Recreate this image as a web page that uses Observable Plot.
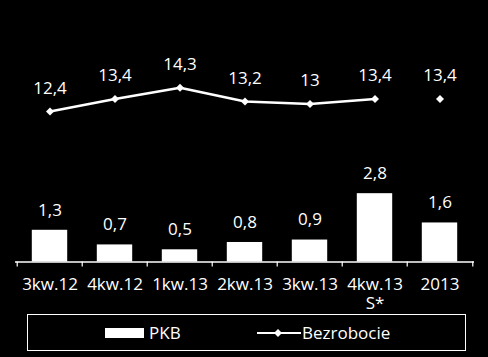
<!DOCTYPE html>
<html>
<head>
<meta charset="utf-8">
<script src="https://cdn.jsdelivr.net/npm/d3@7"></script>
<script src="https://cdn.jsdelivr.net/npm/@observablehq/plot@0.6"></script>
<style>
  html, body { margin: 0; padding: 0; background: #000; }
  #wrap { position: relative; width: 488px; height: 357px; background: #000; overflow: hidden; font-family: "Open Sans", sans-serif; }
  #wrap svg.plot { position: absolute; left: 0; top: 0; background: transparent; }
  #legend { position: absolute; left: 27px; top: 314px; width: 437px; height: 35px; border: 1px solid #fff; color: #fff; font-size: 17px; z-index: 2; }
  #legend .item { position: absolute; top: 0; height: 35px; display: flex; align-items: center; }
</style>
</head>
<body>
<div id="wrap">
  <div id="legend">
    <div class="item" style="left:77px"><svg width="40" height="10"><rect x="0" y="0" width="39" height="10" fill="#fff"/></svg><span style="margin-left:4px">PKB</span></div>
    <div class="item" style="left:229px"><svg width="44" height="10"><line x1="0" y1="5" x2="44" y2="5" stroke="#fff" stroke-width="2"/><path d="M21,1 L25,5 L21,9 L17,5 Z" fill="#fff"/></svg><span style="margin-left:1px">Bezrobocie</span></div>
  </div>
</div>
<script>
const categories = ["3kw.12", "4kw.12", "1kw.13", "2kw.13", "3kw.13", "4kw.13", "2013"];
const tickLabels = ["3kw.12", "4kw.12", "1kw.13", "2kw.13", "3kw.13", "4kw.13\nS*", "2013"];
const pkb = [1.3, 0.7, 0.5, 0.8, 0.9, 2.8, 1.6];
const bezrobocie = [12.4, 13.4, 14.3, 13.2, 13, 13.4, 13.4];
const lineGroup = ["kw", "kw", "kw", "kw", "kw", "kw", "rok"];

const fmt = v => String(v).replace(".", ",");
const W = 488, H = 357, ML = 15, MR = 14;
const step = (W - ML - MR) / categories.length;
const rows = categories.map((c, i) => ({cat: c, label: tickLabels[i], pkb: pkb[i], bez: bezrobocie[i], grp: lineGroup[i]}));
const font = "Open Sans";

const bars = Plot.plot({
  className: "plot",
  width: W, height: H,
  marginLeft: ML, marginRight: MR, marginTop: 17.5, marginBottom: H - 261.5,
  style: {background: "transparent", color: "#fff", fontFamily: font},
  x: {type: "band", domain: categories, padding: 0, axis: null},
  y: {domain: [0, 10], axis: null},
  marks: [
    Plot.barY(rows, {x: "cat", y: "pkb", fill: "#fff", insetLeft: 14.8, insetRight: 14.8}),
    Plot.text(rows, {x: "cat", y: "pkb", text: d => fmt(d.pkb), dy: -20, fill: "#fff", fontSize: 17}),
    Plot.ruleY([0], {stroke: "#fff", strokeWidth: 1.5}),
    Plot.ruleX(categories, {x: d => d, y1: 0, y2: -0.21, dx: -step / 2, stroke: "#fff", strokeWidth: 1.2}),
    Plot.ruleX([categories[categories.length - 1]], {x: d => d, y1: 0, y2: -0.21, dx: step / 2, stroke: "#fff", strokeWidth: 1.2}),
    Plot.text(rows, {x: "cat", y: 0, text: "label", lineAnchor: "top", dy: 15, fill: "#fff", fontSize: 17, lineHeight: 1.1})
  ]
});

const line = Plot.plot({
  className: "plot",
  width: W, height: H,
  marginLeft: ML, marginRight: MR, marginTop: 78.5, marginBottom: H - 116,
  style: {background: "transparent", color: "#fff", fontFamily: font, overflow: "visible"},
  x: {type: "band", domain: categories, padding: 0, axis: null},
  y: {domain: [12, 15], axis: null},
  marks: [
    Plot.line(rows, {x: "cat", y: "bez", z: "grp", stroke: "#fff", strokeWidth: 2.6}),
    Plot.dot(rows, {x: "cat", y: "bez", symbol: "diamond2", r: 3.6, fill: "#fff", stroke: null}),
    Plot.text(rows, {x: "cat", y: "bez", text: d => fmt(d.bez), dy: -23, fill: "#fff", fontSize: 17})
  ]
});

const wrap = document.getElementById("wrap");
wrap.insertBefore(line, wrap.firstChild);
wrap.insertBefore(bars, wrap.firstChild);
</script>
</body>
</html>
